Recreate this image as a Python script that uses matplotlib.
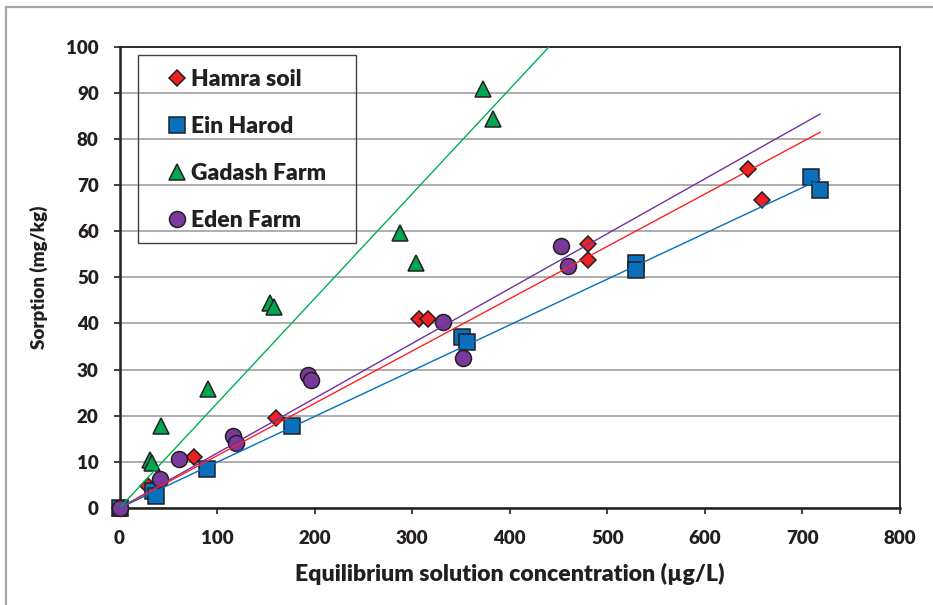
import matplotlib
matplotlib.use("Agg")
import matplotlib.pyplot as plt
from matplotlib.lines import Line2D
from matplotlib.patches import Rectangle
import numpy as np

plt.rcParams['font.family'] = ['Lato', 'DejaVu Sans']
plt.rcParams['font.weight'] = 'bold'

# Sorption data for each soil (x: ug/L, y: mg/kg)
hamra_x = [0, 29, 76, 160, 307, 316, 480, 480, 644, 658]
hamra_y = [0, 4.7, 11.0, 19.6, 40.9, 40.9, 57.3, 53.7, 73.4, 66.7]

ein_x = [0, 34, 37, 90, 177, 351, 356, 529, 529, 709, 718]
ein_y = [0, 3.6, 2.5, 8.4, 17.8, 37.1, 36.0, 53.1, 51.5, 71.7, 69.0]

gadash_x = [0, 31, 33, 43, 91, 154, 158, 287, 304, 373, 383]
gadash_y = [0, 10.5, 9.8, 17.8, 25.8, 44.5, 43.6, 59.7, 53.0, 90.8, 84.3]

eden_x = [0, 42, 61, 116, 119, 193, 196, 332, 352, 452, 460]
eden_y = [0, 6.3, 10.6, 15.6, 14.0, 28.8, 27.7, 40.2, 32.6, 56.8, 52.5]

# Linear trendlines forced through the origin
hamra_slope = 0.1134
ein_slope = 0.0992
gadash_slope = 0.227
eden_slope = 0.1189
trend_xmax = 718

labels = ['Hamra soil', 'Ein Harod', 'Gadash Farm', 'Eden Farm']

fig = plt.figure(figsize=(9.33, 6.05), dpi=100)
ax = fig.add_axes([0.1281, 0.1603, 0.8366, 0.7628])

red = '#ED2024'
blue = '#0A70BE'
green = '#00A651'
purple = '#7A3A9C'
edge = '#231F20'
ink = '#231F20'

mk = dict(ls='none', mec=edge, mew=1.1, zorder=3, clip_on=False)
ax.plot(hamra_x, hamra_y, 'D', ms=8.2, mfc=red, label=labels[0], **mk)
ax.plot(ein_x, ein_y, 's', ms=11.2, mfc=blue, label=labels[1], **mk)
ax.plot(gadash_x, gadash_y, '^', ms=11.5, mfc=green, label=labels[2], **mk)
ax.plot(eden_x, eden_y, 'o', ms=11.5, mfc=purple, label=labels[3], **mk)

xx = np.array([0, trend_xmax])
ax.plot(xx, gadash_slope * xx, color='#00B050', lw=1.0, zorder=4)
ax.plot(xx, eden_slope * xx, color='#7030A0', lw=1.0, zorder=4)
ax.plot(xx, hamra_slope * xx, color='#FF2020', lw=1.0, zorder=4)
ax.plot(xx, ein_slope * xx, color='#0070C0', lw=1.0, zorder=4)

ax.set_xlim(0, 800)
ax.set_ylim(0, 100)
ax.set_xticks(range(0, 801, 100))
ax.set_yticks(range(0, 101, 10))
ax.yaxis.grid(True, color='#A0A0A0', lw=1.2)
ax.set_axisbelow(True)

for side in ['left', 'bottom']:
    ax.spines[side].set_linewidth(1.8)
    ax.spines[side].set_color(ink)
for side in ['top', 'right']:
    ax.spines[side].set_linewidth(1.3)
    ax.spines[side].set_color(ink)

ax.tick_params(axis='both', direction='out', length=4.5, width=1.2, color=ink,
               labelsize=13.5, labelcolor=ink)
ax.tick_params(axis='x', pad=11)
ax.tick_params(axis='y', pad=10.5)
for t in ax.get_xticklabels() + ax.get_yticklabels():
    t.set_fontweight('heavy')

ax.set_xlabel('Equilibrium solution concentration (µg/L)', fontsize=16.6, fontweight='heavy',
              color=ink, labelpad=12)
ax.set_ylabel('Sorption (mg/kg)', fontsize=13.5, fontweight='heavy', color=ink, labelpad=13)

# legend box (no fill, gridlines show through)
ax.add_patch(Rectangle((0.0233, 0.5742), 0.2801, 0.4074, transform=ax.transAxes,
                       fill=False, edgecolor='#404040', lw=1.0, zorder=5))
leg = ax.legend(loc='upper left', bbox_to_anchor=(0.059, 0.9515), borderaxespad=0,
                borderpad=0, fontsize=16.5, frameon=False, labelspacing=1.14,
                handletextpad=0.12, handlelength=1.0)
for t in leg.get_texts():
    t.set_color(ink)
    t.set_fontweight('heavy')

# light frame around the chart area
fig.add_artist(Line2D([6 / 933, 6 / 933], [0, 1 - 7 / 605], transform=fig.transFigure,
                      color='#A6A6A6', lw=1.6))
fig.add_artist(Line2D([6 / 933, 1], [1 - 7 / 605, 1 - 7 / 605], transform=fig.transFigure,
                      color='#A6A6A6', lw=1.6))

fig.savefig('out.png', dpi=100)
